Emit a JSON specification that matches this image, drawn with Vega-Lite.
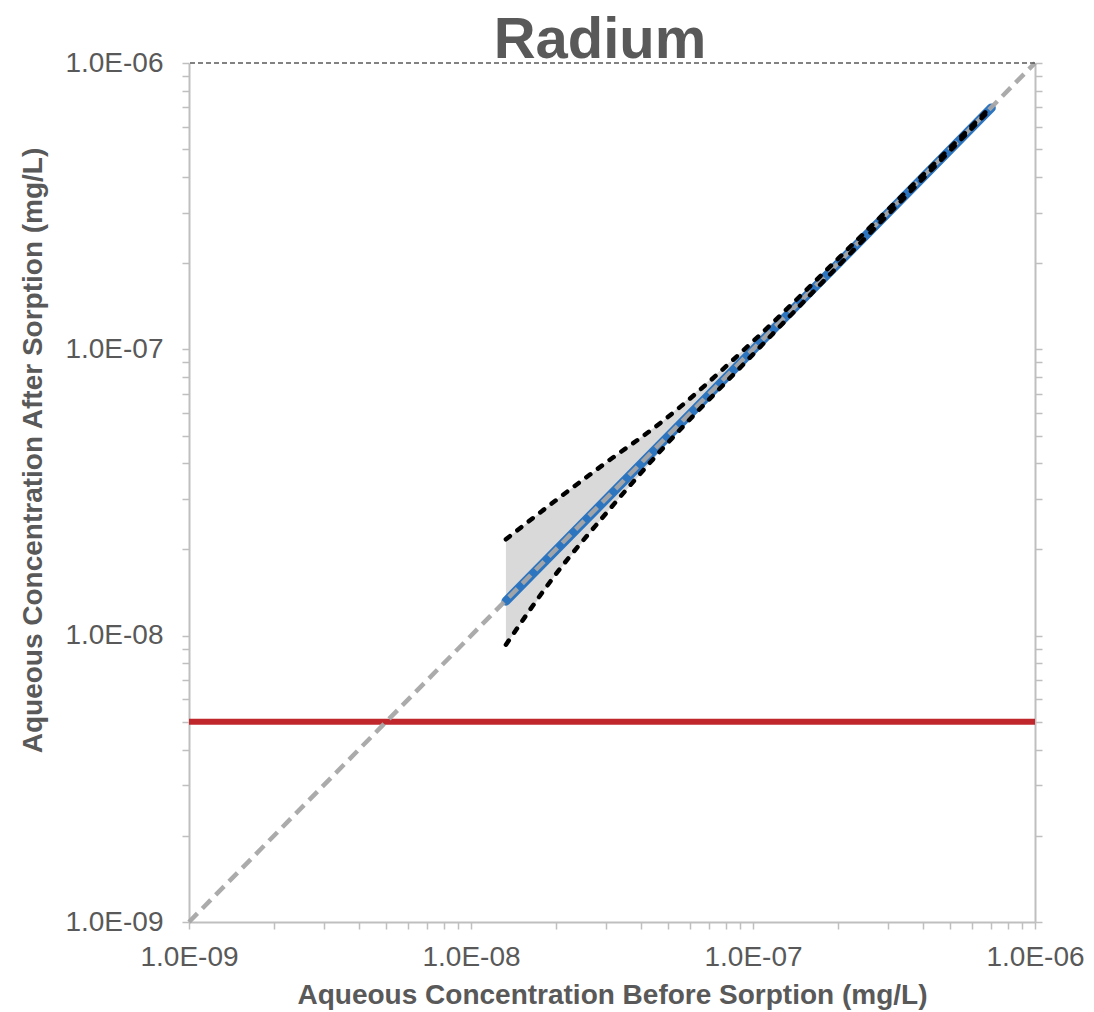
{
  "$schema": "https://vega.github.io/schema/vega-lite/v6.json",
  "width": 846,
  "height": 859,
  "autosize": {"type": "none"},
  "padding": {"left": 189, "top": 63, "right": 59, "bottom": 90},
  "background": "white",
  "title": {
    "text": "Radium",
    "font": "Liberation Sans",
    "fontSize": 58,
    "fontWeight": "bold",
    "color": "#595959",
    "anchor": "middle",
    "frame": "group",
    "baseline": "alphabetic",
    "dx": -12,
    "offset": -67
  },
  "config": {
    "view": {"stroke": null},
    "axis": {
      "domainColor": "#BFBFBF",
      "domainWidth": 2,
      "tickColor": "#BFBFBF",
      "tickWidth": 1.5,
      "tickSize": 7,
      "grid": false,
      "labelFont": "Liberation Sans",
      "labelFontSize": 28,
      "labelColor": "#595959",
      "labelOverlap": false,
      "labelFlush": false,
      "labelBound": false,
      "titleFontWeight": "bold",
      "titleColor": "#595959"
    }
  },
  "datasets": {
    "diag": [
      {"x": 1e-9, "y": 1e-9},
      {"x": 1e-6, "y": 1e-6}
    ],
    "fit": [
      {"x": 1.33e-8, "y": 1.32e-8},
      {"x": 7e-7, "y": 6.97e-7}
    ],
    "band": [
      {"x": 1.33e-8, "lo": 9.3e-9, "hi": 2.17e-8},
      {"x": 2e-8, "lo": 1.64e-8, "hi": 2.97e-8},
      {"x": 3e-8, "lo": 2.66e-8, "hi": 4.01e-8},
      {"x": 4.75e-8, "lo": 4.47e-8, "hi": 5.58e-8},
      {"x": 1e-7, "lo": 9.6e-8, "hi": 1.066e-7},
      {"x": 2e-7, "lo": 1.95e-7, "hi": 2.07e-7},
      {"x": 4e-7, "lo": 3.94e-7, "hi": 4.06e-7},
      {"x": 7e-7, "lo": 6.95e-7, "hi": 7.06e-7}
    ],
    "limit": [{"y": 5e-9}],
    "top": [{"y": 1e-6}]
  },
  "resolve": {"axis": {"y": "independent"}},
  "layer": [
    {
      "data": {"name": "band"},
      "mark": {"type": "area", "color": "#D9D9D9", "opacity": 1},
      "encoding": {
        "x": {
          "field": "x",
          "type": "quantitative",
          "scale": {"type": "log", "domain": [1e-9, 1e-6], "nice": false},
          "axis": {
            "orient": "bottom",
            "title": "Aqueous Concentration Before Sorption (mg/L)",
            "titleFont": "Liberation Sans",
            "titleFontSize": 28,
            "titlePadding": 10,
            "labelPadding": 14,
            "values": [1e-9, 2e-9, 3e-9, 4e-9, 5e-9, 6e-9, 7e-9, 8e-9, 9e-9, 1e-8, 2e-8, 3e-8, 4e-8, 5e-8, 6e-8, 7e-8, 8e-8, 9e-8, 1e-7, 2e-7, 3e-7, 4e-7, 5e-7, 6e-7, 7e-7, 8e-7, 9e-7, 1e-6],
            "labelExpr": "abs(log(datum.value)/LN10 - round(log(datum.value)/LN10)) < 0.001 ? '1.0E-0' + round(-log(datum.value)/LN10) : ''"
          }
        },
        "y": {
          "field": "lo",
          "type": "quantitative",
          "scale": {"type": "log", "domain": [1e-9, 1e-6], "nice": false},
          "axis": {
            "orient": "left",
            "title": "Aqueous Concentration After Sorption (mg/L)",
            "titleFont": "Liberation Sans Narrow, Liberation Sans",
            "titleFontSize": 28,
            "titleX": -156,
            "titleY": 387,
            "titleAngle": -90,
            "titleBaseline": "middle",
            "labelPadding": 19,
            "values": [1e-9, 2e-9, 3e-9, 4e-9, 5e-9, 6e-9, 7e-9, 8e-9, 9e-9, 1e-8, 2e-8, 3e-8, 4e-8, 5e-8, 6e-8, 7e-8, 8e-8, 9e-8, 1e-7, 2e-7, 3e-7, 4e-7, 5e-7, 6e-7, 7e-7, 8e-7, 9e-7, 1e-6],
            "labelExpr": "abs(log(datum.value)/LN10 - round(log(datum.value)/LN10)) < 0.001 ? '1.0E-0' + round(-log(datum.value)/LN10) : ''"
          }
        },
        "y2": {"field": "hi"}
      }
    },
    {
      "data": {"name": "limit"},
      "mark": {"type": "rule", "color": "#C0272D", "strokeWidth": 6},
      "encoding": {
        "y": {"field": "y", "type": "quantitative", "axis": null}
      }
    },
    {
      "data": {"name": "fit"},
      "mark": {"type": "line", "color": "#2E75C0", "strokeWidth": 9, "strokeCap": "round"},
      "encoding": {
        "x": {"field": "x", "type": "quantitative"},
        "y": {"field": "y", "type": "quantitative", "axis": null}
      }
    },
    {
      "data": {"name": "diag"},
      "mark": {"type": "line", "color": "#A6A6A6", "strokeWidth": 4.5, "strokeDash": [12, 7], "opacity": 0.95},
      "encoding": {
        "x": {"field": "x", "type": "quantitative"},
        "y": {"field": "y", "type": "quantitative", "axis": null}
      }
    },
    {
      "data": {"name": "band"},
      "mark": {"type": "line", "color": "#000000", "strokeWidth": 4.5, "strokeDash": [5, 9.5], "strokeCap": "round", "interpolate": "monotone"},
      "encoding": {
        "x": {"field": "x", "type": "quantitative"},
        "y": {"field": "hi", "type": "quantitative", "axis": null}
      }
    },
    {
      "data": {"name": "band"},
      "mark": {"type": "line", "color": "#000000", "strokeWidth": 4.5, "strokeDash": [5, 9.5], "strokeCap": "round", "interpolate": "monotone"},
      "encoding": {
        "x": {"field": "x", "type": "quantitative"},
        "y": {"field": "lo", "type": "quantitative", "axis": null}
      }
    },
    {
      "data": {"name": "top"},
      "mark": {"type": "rule", "color": "#595959", "strokeWidth": 1.5, "strokeDash": [5, 3]},
      "encoding": {
        "y": {
          "field": "y",
          "type": "quantitative",
          "axis": {
            "orient": "right",
            "title": null,
            "labels": false,
            "values": [1e-9, 2e-9, 3e-9, 4e-9, 5e-9, 6e-9, 7e-9, 8e-9, 9e-9, 1e-8, 2e-8, 3e-8, 4e-8, 5e-8, 6e-8, 7e-8, 8e-8, 9e-8, 1e-7, 2e-7, 3e-7, 4e-7, 5e-7, 6e-7, 7e-7, 8e-7, 9e-7, 1e-6]
          }
        }
      }
    }
  ]
}
